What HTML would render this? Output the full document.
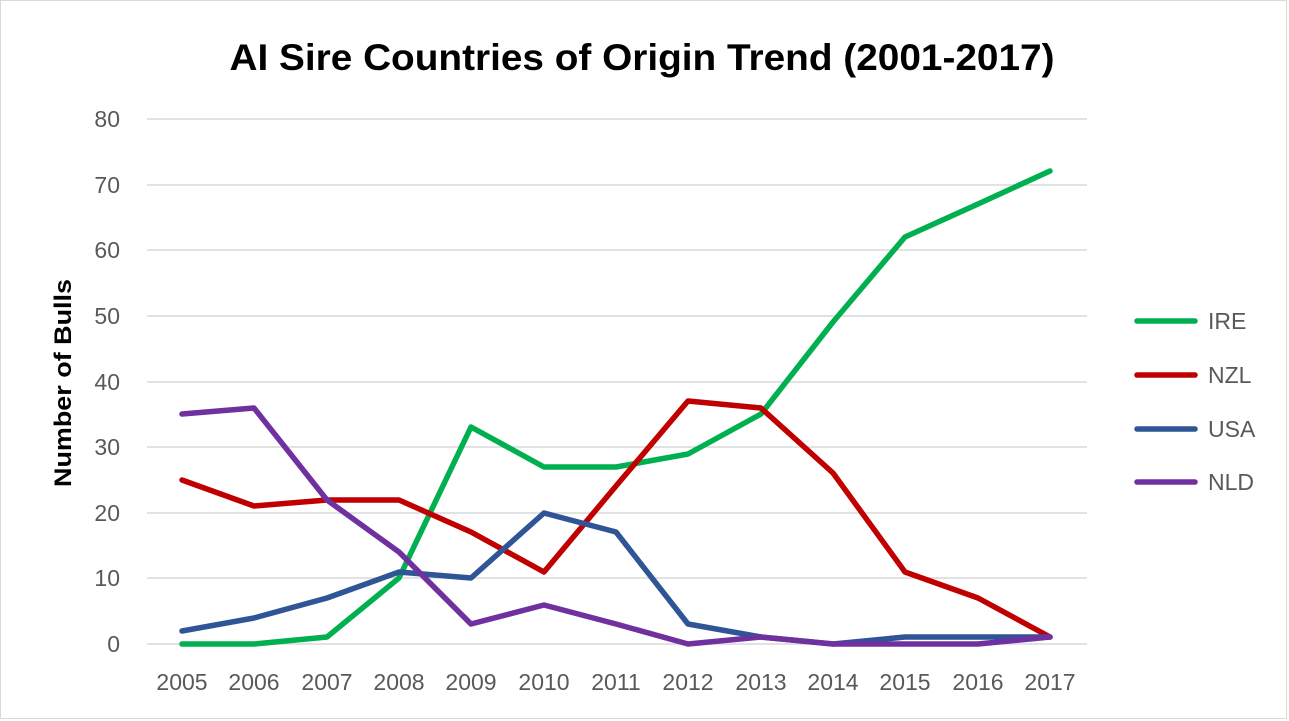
<!DOCTYPE html>
<html><head><meta charset="utf-8"><style>
html,body{margin:0;padding:0;background:#fff;}
svg{display:block;font-family:"Liberation Sans",sans-serif;}
</style></head><body>
<svg width="1289" height="721" viewBox="0 0 1289 721">
<rect x="0.5" y="0.5" width="1286" height="718" fill="#fff" stroke="#d9d9d9"/>
<text x="642" y="70" text-anchor="middle" font-size="37" font-weight="bold" fill="#000" textLength="825" lengthAdjust="spacingAndGlyphs">AI Sire Countries of Origin Trend (2001-2017)</text>
<g stroke="#d9d9d9" stroke-width="1.5">
<line x1="147" x2="1087" y1="119" y2="119"/><line x1="147" x2="1087" y1="185" y2="185"/>
<line x1="147" x2="1087" y1="250" y2="250"/><line x1="147" x2="1087" y1="316" y2="316"/>
<line x1="147" x2="1087" y1="382" y2="382"/><line x1="147" x2="1087" y1="447" y2="447"/>
<line x1="147" x2="1087" y1="513" y2="513"/><line x1="147" x2="1087" y1="578" y2="578"/>
<line x1="147" x2="1087" y1="644" y2="644"/>
</g>
<g font-size="23" fill="#595959" text-anchor="end">
<text x="120" y="127">80</text><text x="120" y="193">70</text><text x="120" y="258">60</text>
<text x="120" y="324">50</text><text x="120" y="390">40</text><text x="120" y="455">30</text>
<text x="120" y="521">20</text><text x="120" y="586">10</text><text x="120" y="652">0</text>
</g>
<g font-size="23" fill="#595959" text-anchor="middle">
<text x="182" y="690">2005</text><text x="254" y="690">2006</text><text x="327" y="690">2007</text>
<text x="399" y="690">2008</text><text x="471" y="690">2009</text><text x="544" y="690">2010</text>
<text x="616" y="690">2011</text><text x="688" y="690">2012</text><text x="761" y="690">2013</text>
<text x="833" y="690">2014</text><text x="905" y="690">2015</text><text x="978" y="690">2016</text>
<text x="1050" y="690">2017</text>
</g>
<text transform="translate(71,383) rotate(-90)" text-anchor="middle" font-size="24" font-weight="bold" fill="#000" textLength="208" lengthAdjust="spacingAndGlyphs">Number of Bulls</text>
<g fill="none" stroke-width="5.5" stroke-linejoin="round" stroke-linecap="round">
<polyline stroke="#00B050" points="182,644 254,644 327,637 399,578 471,427 544,467 616,467 688,454 761,414 833,322 905,237 978,204 1050,171"/>
<polyline stroke="#C00000" points="182,480 254,506 327,500 399,500 471,532 544,572 616,486 688,401 761,408 833,473 905,572 978,598 1050,637"/>
<polyline stroke="#2F5597" points="182,631 254,618 327,598 399,572 471,578 544,513 616,532 688,624 761,637 833,644 905,637 978,637 1050,637"/>
<polyline stroke="#7030A0" points="182,414 254,408 327,500 399,552 471,624 544,605 616,624 688,644 761,637 833,644 905,644 978,644 1050,637"/>
</g>
<g stroke-width="5.5" stroke-linecap="round">
<line x1="1137" x2="1195" y1="321" y2="321" stroke="#00B050"/>
<line x1="1137" x2="1195" y1="375" y2="375" stroke="#C00000"/>
<line x1="1137" x2="1195" y1="429" y2="429" stroke="#2F5597"/>
<line x1="1137" x2="1195" y1="482" y2="482" stroke="#7030A0"/>
</g>
<g font-size="23" fill="#595959">
<text x="1208" y="329">IRE</text><text x="1208" y="383">NZL</text>
<text x="1208" y="437">USA</text><text x="1208" y="490">NLD</text>
</g>
</svg>
</body></html>
